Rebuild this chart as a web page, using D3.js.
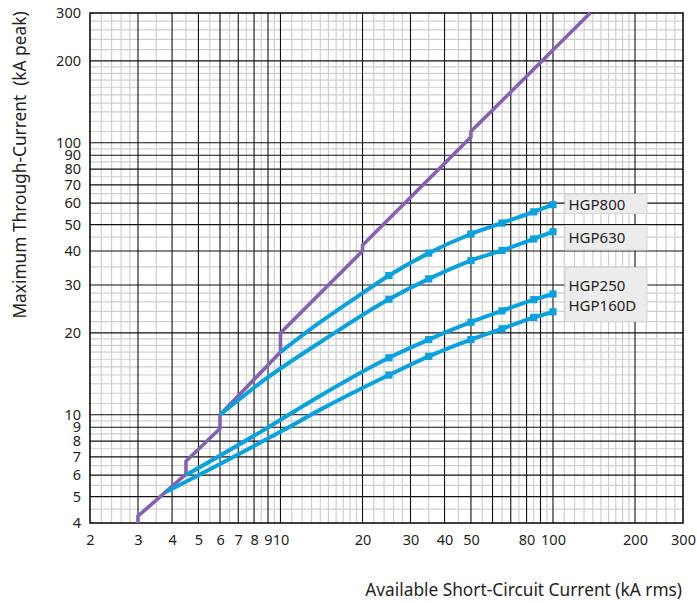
<!DOCTYPE html>
<html><head><meta charset="utf-8">
<script src="https://cdn.jsdelivr.net/npm/d3@7"></script>
<style>
body{margin:0;background:#fff;}
svg text{font-family:"Noto Sans",sans-serif;fill:#231f20;}
</style></head>
<body><svg id="c" width="697" height="603"></svg>
<script>
// ---- data ----
const xTickLabels = [2,3,4,5,6,7,8,9,10,20,30,40,50,80,100,200,300];
const yTickLabels = [4,5,6,7,8,9,10,20,30,40,50,60,70,80,90,100,200,300];
const xMajor = [3,4,5,6,7,8,9,10,20,30,40,50,60,70,80,90,100,200];
const yMajor = [5,6,7,8,9,10,20,30,40,50,60,70,80,90,100,200];

const limitX = [3,3,4.5,4.5,6,6,10,10,20,20,50,50,137];
const limitY = [4,4.24,6.05,6.75,8.9,10,17,20,40,42,105,110,300];

const hgp800X = [10,13.9,20,25,35,50,65,85,100];
const hgp800Y = [17,21.8,28.0,32.5,39.3,46.2,50.7,55.7,59.2];
const hgp630X = [6,8.7,13.9,25,35,50,65,85,100];
const hgp630Y = [10,13.4,18.4,26.6,31.6,36.9,40.2,44.3,47.1];
const hgp250X = [4.5,8.7,13.9,25,35,50,65,85,100];
const hgp250Y = [6.0,8.8,11.7,16.2,18.9,21.9,24.1,26.5,27.8];
const hgp160X = [3.8,10.3,13.9,25,35,50,65,85,100];
const hgp160Y = [5.2,8.8,10.4,14.0,16.4,18.9,20.7,22.8,23.9];
const markerX = [25,35,50,65,85,100];

const labelBoxes = [["HGP800"],["HGP630"],["HGP250","HGP160D"]];

// ---- layout ----
const svg = d3.select("#c");
const L=90,R=683,T=13,B=523;
const x = d3.scaleLog().domain([2,300]).range([L,R]);
const y = d3.scaleLog().domain([4,300]).range([B,T]);

function minors(lo,hi){
  const out=[];
  for(let d=1; d<=100; d*=10){
    const add=(a,b,s)=>{for(let v=a+s; v<b-1e-9; v+=s){const r=+v.toFixed(6); if(r>lo&&r<hi) out.push(r);}};
    add(1*d,2*d,0.1*d); add(2*d,3*d,0.2*d); add(3*d,10*d,0.5*d);
  }
  return out;
}
const xMin = minors(2,300).filter(v=>!xMajor.includes(v));
const yMin = minors(4,300).filter(v=>!yMajor.includes(v));

const g = svg.append("g");
g.selectAll(".vx").data(xMin).join("line").attr("x1",d=>x(d)).attr("x2",d=>x(d)).attr("y1",T).attr("y2",B).attr("stroke","#cfcfcf").attr("stroke-width",1.2);
g.selectAll(".hy").data(yMin).join("line").attr("y1",d=>y(d)).attr("y2",d=>y(d)).attr("x1",L).attr("x2",R).attr("stroke","#cfcfcf").attr("stroke-width",1.2);
g.selectAll(".VX").data(xMajor).join("line").attr("x1",d=>x(d)).attr("x2",d=>x(d)).attr("y1",T).attr("y2",B).attr("stroke","#111").attr("stroke-width",1.1);
g.selectAll(".HY").data(yMajor).join("line").attr("y1",d=>y(d)).attr("y2",d=>y(d)).attr("x1",L).attr("x2",R).attr("stroke","#111").attr("stroke-width",1.1);
g.append("rect").attr("x",L).attr("y",T).attr("width",R-L).attr("height",B-T).attr("fill","none").attr("stroke","#000").attr("stroke-width",1.5);

// axes labels
const xa = svg.append("g").attr("transform",`translate(0,${B})`).call(d3.axisBottom(x).tickValues(xTickLabels).tickFormat(d3.format("d")).tickSize(0).tickPadding(12));
const ya = svg.append("g").attr("transform",`translate(${L},0)`).call(d3.axisLeft(y).tickValues(yTickLabels).tickFormat(d3.format("d")).tickSize(0).tickPadding(9));
[xa,ya].forEach(a=>{a.select(".domain").remove(); a.selectAll("text").style("font-size","14.5px").attr("fill","#231f20").style("font-family","Noto Sans");});

// lines
const lineGen = d3.line().x(d=>x(d[0])).y(d=>y(d[1]));
const curveGen = d3.line().x(d=>x(d[0])).y(d=>y(d[1])).curve(d3.curveMonotoneX);
const purple="#8561b3", blue="#0aa2de";
svg.append("path").datum(limitX.map((v,i)=>[v,limitY[i]])).attr("d",lineGen).attr("fill","none").attr("stroke",purple).attr("stroke-width",3.6).attr("stroke-linejoin","miter");

const series=[[hgp800X,hgp800Y],[hgp630X,hgp630Y],[hgp250X,hgp250Y],[hgp160X,hgp160Y]];
series.forEach(([xs,ys])=>{
  const pts=xs.map((v,i)=>[v,ys[i]]);
  svg.append("path").datum(pts).attr("d",curveGen).attr("fill","none").attr("stroke",blue).attr("stroke-width",4);
  svg.selectAll(null).data(pts.filter(p=>markerX.includes(p[0]))).join("rect")
    .attr("x",d=>x(d[0])-3.6).attr("y",d=>y(d[1])-3.6).attr("width",7.2).attr("height",7.2).attr("fill",blue);
});

// label boxes
const boxG = svg.append("g");
const boxY=[[194,213.5],[225.5,250],[267.5,321.5]];
const baseY=[[209.5],[242.5],[291,311]];
labelBoxes.forEach((lbls,i)=>{
  boxG.append("rect").attr("x",565).attr("y",boxY[i][0]).attr("width",82).attr("height",boxY[i][1]-boxY[i][0]).attr("fill","#ececec").attr("stroke","#d6d6d6").attr("stroke-width",1);
  lbls.forEach((t,j)=>boxG.append("text").attr("x",568.5).attr("y",baseY[i][j]).style("font-size","15px").text(t));
});

// titles
svg.append("text").attr("x",682).attr("y",596).attr("text-anchor","end").style("font-size","17.3px").text("Available Short-Circuit Current (kA rms)");
svg.append("text").attr("transform","translate(26,165) rotate(-90)").attr("text-anchor","middle").style("font-size","17.3px").style("white-space","pre").text("Maximum Through-Current  (kA peak)");
</script></body></html>
